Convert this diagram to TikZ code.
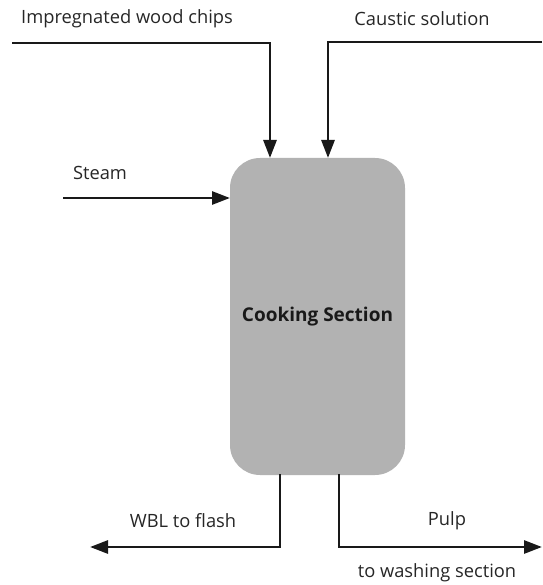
\documentclass[tikz,border=0pt]{standalone}
\usepackage{fontspec}
\setmainfont{Open Sans}
\usetikzlibrary{arrows.meta}
\begin{document}
\begin{tikzpicture}[x=1pt,y=-1pt,
  flow/.style={line width=2.8pt,draw=black!90,-{Triangle[length=18pt,width=13pt]}},
  lbl/.style={font=\fontsize{18.3}{20}\selectfont,text=black!85,inner sep=0pt},
  vessel/.style={fill=black!30,draw=none,rounded corners=30pt,minimum width=175pt,minimum height=317pt}]
\useasboundingbox (0,0) rectangle (542,585);
\node[vessel] (cook) at (317.5,316.5) {};
\node[font=\fontsize{19}{21}\selectfont\bfseries,text=black!90] (cooklbl) at (cook.center) {Cooking Section};
\coordinate (wcIn) at (12,43);
\coordinate (wcTurn) at (270,43);
\coordinate (wcEnd) at (270,158);
\coordinate (csIn) at (542,42);
\coordinate (csTurn) at (328,42);
\coordinate (csEnd) at (328,158);
\coordinate (stIn) at (63,198);
\coordinate (stEnd) at (230,198);
\coordinate (wblStart) at (280,474);
\coordinate (wblTurn) at (280,547);
\coordinate (wblEnd) at (90,547);
\coordinate (pStart) at (339,474);
\coordinate (pTurn) at (339,547);
\coordinate (pEnd) at (542,547);
\draw[flow] (wcIn) -- (wcTurn) -- (wcEnd);
\draw[flow] (csIn) -- (csTurn) -- (csEnd);
\draw[flow] (stIn) -- (stEnd);
\draw[flow] (wblStart) -- (wblTurn) -- (wblEnd);
\draw[flow] (pStart) -- (pTurn) -- (pEnd);
\node[lbl] (t1) at (127,19) {Impregnated wood chips};
\node[lbl] (t2) at (422,19) {Caustic solution};
\node[lbl] (t3) at (100,173) {Steam};
\node[lbl] (t4) at (183,521) {WBL to flash};
\node[lbl] (t5) at (447,521) {Pulp};
\node[lbl] (t6) at (437,573) {to washing section};
\end{tikzpicture}
\end{document}
